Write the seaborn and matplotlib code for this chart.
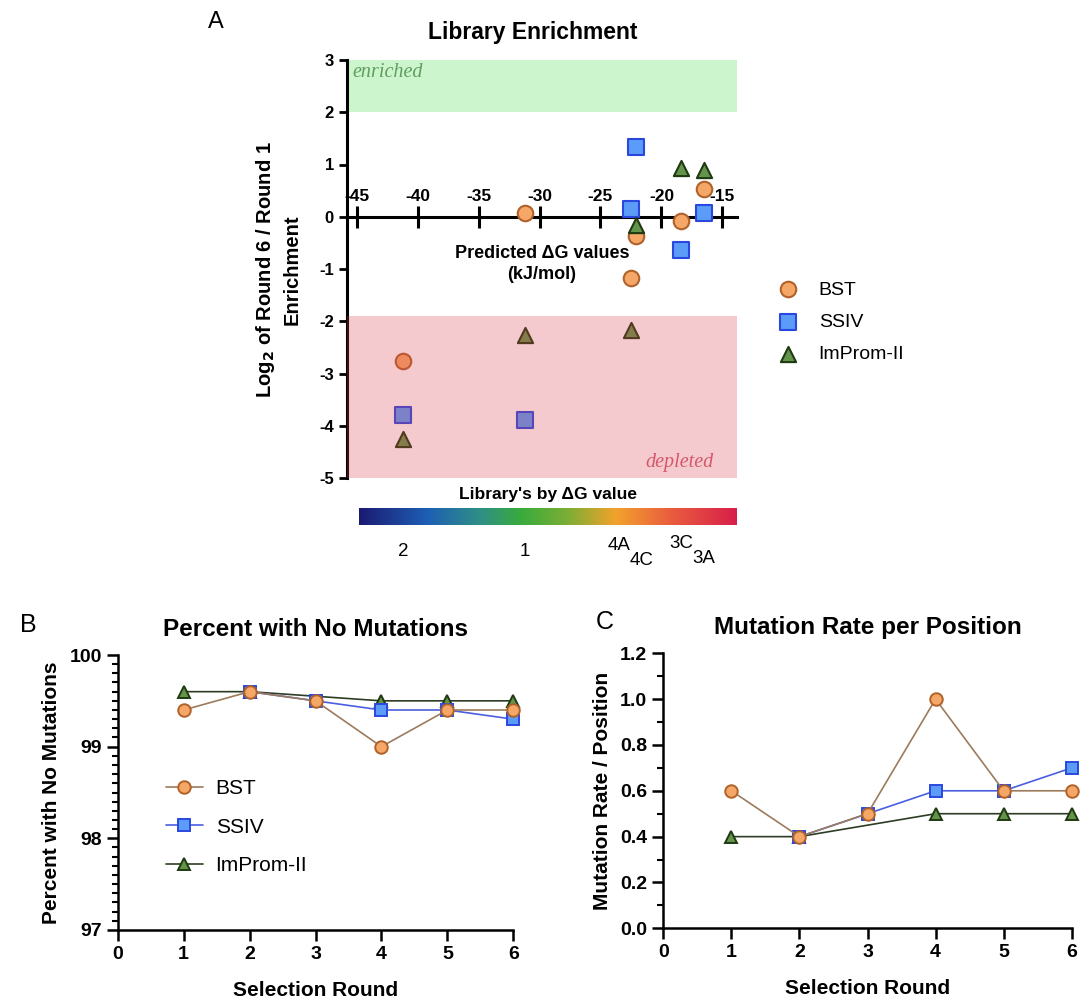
import matplotlib
matplotlib.use("Agg")
import matplotlib.pyplot as plt
import matplotlib.colors as mcolors
from matplotlib.ticker import MultipleLocator
import numpy as np
import pandas as pd
import seaborn as sns

# ---- panel A: enrichment vs predicted dG ----
lib_names = ["2", "1", "4A", "4C", "3C", "3A"]
lib_dg = [-41.2, -31.2, -22.5, -22.05, -18.4, -16.5]
bst_enrich = [-2.76, 0.08, -1.18, -0.37, -0.09, 0.54]
ssiv_enrich = [-3.79, -3.89, 0.14, 1.33, -0.64, 0.07]
improm_enrich = [-4.26, -2.26, -2.17, -0.16, 0.93, 0.89]

# ---- panels B / C: per selection round ----
bst_rounds = [1, 2, 3, 4, 5, 6]
bst_pct = [99.4, 99.6, 99.5, 99.0, 99.4, 99.4]
bst_rate = [0.6, 0.4, 0.5, 1.0, 0.6, 0.6]
ssiv_rounds = [2, 3, 4, 5, 6]
ssiv_pct = [99.6, 99.5, 99.4, 99.4, 99.3]
ssiv_rate = [0.4, 0.5, 0.6, 0.6, 0.7]
improm_rounds = [1, 2, 4, 5, 6]
improm_pct = [99.6, 99.6, 99.5, 99.5, 99.5]
improm_rate = [0.4, 0.4, 0.5, 0.5, 0.5]

sns.set_style("ticks")
plt.rcParams["font.family"] = ["Liberation Sans", "DejaVu Sans"]
plt.rcParams["axes.linewidth"] = 1.8
plt.rcParams["axes.unicode_minus"] = False
for key in ["text.color", "axes.labelcolor", "xtick.color", "ytick.color",
            "axes.edgecolor"]:
    plt.rcParams[key] = "black"

# name: (marker, face, edge, line)
styles = {
    "BST": ("o", "#f4a766", "#b0622a", "#9c7b5c"),
    "SSIV": ("s", "#5a9cf8", "#2a48e0", "#4a5ee0"),
    "ImProm-II": ("^", "#64944a", "#1f3a12", "#2d3d25"),
}
enrich = {"BST": bst_enrich, "SSIV": ssiv_enrich, "ImProm-II": improm_enrich}

fig = plt.figure(figsize=(10.88, 10), dpi=100)

# ================= panel A =================
ax = fig.add_axes([347 / 1088, 0.522, 390 / 1088, 0.418])
ax.axhspan(2, 3, color="#cdf5cd", lw=0, zorder=0)
for name, vals in enrich.items():
    mk, fc, ec, lc = styles[name]
    sns.scatterplot(x=lib_dg, y=vals, marker=mk, s=125 if mk != "^" else 120,
                    color=fc, edgecolor=ec, linewidth=1.5, ax=ax, zorder=3,
                    label=name, clip_on=False)
ax.axhspan(-5, -1.9, color=(0.86, 0.24, 0.29), alpha=0.27, lw=0, zorder=5)

ax.set_xlim(-45.8, -13.8)
ax.set_ylim(-5, 3)
sns.despine(ax=ax, top=True, right=True)
ax.spines["bottom"].set_position(("data", 0))
ax.spines["bottom"].set_linewidth(2.2)
ax.spines["left"].set_linewidth(2.2)
ax.set_xticks(np.arange(-45, -14, 5))
ax.set_yticks(np.arange(-5, 4, 1))
ax.tick_params(axis="x", direction="inout", length=16, width=2.2, pad=-28,
               labelsize=12.5)
ax.tick_params(axis="y", direction="out", length=6, width=2, labelsize=12)
for lab in ax.get_xticklabels() + ax.get_yticklabels():
    lab.set_fontweight("bold")
ax.set_xlabel("")
ax.set_ylabel("")
ax.text(0.5, 0.512, "Predicted \u0394G values\n(kJ/mol)", transform=ax.transAxes,
        ha="center", va="center", fontsize=13, fontweight="bold",
        linespacing=1.3, zorder=6)
ax.text(0.013, 0.969, "enriched", transform=ax.transAxes, ha="left", va="center",
        fontsize=14.5, style="italic", family="Liberation Serif", color="#5e9e5e")
ax.text(0.94, 0.038, "depleted", transform=ax.transAxes, ha="right", va="center",
        fontsize=14.5, style="italic", family="Liberation Serif", color="#d4586a",
        zorder=6)
ax.legend(loc="upper left", bbox_to_anchor=(1.06, 0.49), frameon=False,
          fontsize=14, handletextpad=0.6, labelspacing=0.75, markerscale=1.0,
          borderaxespad=0)

fig.text(0.191, 0.978, "A", fontsize=17, ha="left", va="center")
fig.text(533 / 1088, 0.967, "Library Enrichment", fontsize=16.5, fontweight="bold",
         ha="center", va="center")
fig.text(278 / 1088, 0.73, "Log$_\\mathbf{2}$ of Round 6 / Round 1\nEnrichment",
         rotation=90, ha="center", va="center", fontsize=14.5, fontweight="bold",
         multialignment="center", linespacing=1.4)

# colour bar of libraries by dG
cax = fig.add_axes([347 / 1088, 0.475, 390 / 1088, 0.0167])
cmap = mcolors.LinearSegmentedColormap.from_list(
    "dg", [(0.0, "#1b1a72"), (0.18, "#1e5fb4"), (0.32, "#2f8f86"),
           (0.43, "#3aab3c"), (0.55, "#7aae35"), (0.68, "#f2a22c"),
           (0.82, "#ea5f3e"), (1.0, "#d81f4a")])
cax.imshow(np.linspace(0, 1, 256)[None, :], cmap=cmap, aspect="auto",
           extent=(-44.8, -13.8, 0, 1))
cax.set_xlim(-45.8, -13.8)
cax.set_ylim(0, 1)
cax.axis("off")
fig.text(548 / 1088, 0.505, "Library's by \u0394G value", ha="center", va="center",
         fontsize=12.5, fontweight="bold")
label_dx = [0, 0, -1.0, 0.4, 0, 0]
label_y = [-1.6, -1.6, -1.25, -2.15, -1.1, -2.0]
for name, dg, dx, yy in zip(lib_names, lib_dg, label_dx, label_y):
    cax.text(dg + dx, yy, name, transform=cax.get_xaxis_transform(),
             ha="center", va="center", fontsize=13.5)

# ================= panels B and C =================
def round_panel(rect, series, ylim, major, minor, ylabel, title, letter, lpos):
    axp = fig.add_axes(rect)
    for name in ["ImProm-II", "SSIV", "BST"]:
        xs, ys = series[name]
        mk, fc, ec, lc = styles[name]
        df = pd.DataFrame({"round": xs, "value": ys})
        sns.lineplot(data=df, x="round", y="value", ax=axp, color=lc, lw=1.2,
                     marker=mk, markersize=9 if mk != "^" else 8.5,
                     markerfacecolor=fc, markeredgecolor=ec, markeredgewidth=1.4,
                     clip_on=False, label=name)
    axp.set_xlim(0, 6)
    axp.set_ylim(*ylim)
    axp.set_xticks(range(0, 7))
    axp.yaxis.set_major_locator(MultipleLocator(major))
    axp.yaxis.set_minor_locator(MultipleLocator(minor))
    sns.despine(ax=axp)
    axp.tick_params(axis="both", which="major", direction="out", length=8,
                    width=1.8, labelsize=14)
    axp.tick_params(axis="y", which="minor", direction="out", length=4, width=1.5)
    for lab in axp.get_xticklabels() + axp.get_yticklabels():
        lab.set_fontweight("bold")
    axp.set_xlabel("Selection Round", fontsize=15, fontweight="bold", labelpad=13)
    axp.set_ylabel(ylabel, fontsize=15, fontweight="bold", labelpad=6)
    axp.set_title(title, fontsize=17.5, fontweight="bold", pad=14)
    fig.text(lpos[0], lpos[1], letter, fontsize=18, ha="left", va="center")
    return axp

axb = round_panel([117.7 / 1088, 0.07, 395.6 / 1088, 0.275],
                  {"BST": (bst_rounds, bst_pct), "SSIV": (ssiv_rounds, ssiv_pct),
                   "ImProm-II": (improm_rounds, improm_pct)},
                  (97, 100), 1, 0.1, "Percent with No Mutations",
                  "Percent with No Mutations", "B", (0.018, 0.375))
handles, labels = axb.get_legend_handles_labels()
order = [labels.index(n) for n in ["BST", "SSIV", "ImProm-II"]]
axb.legend([handles[i] for i in order], [labels[i] for i in order],
           loc="upper left", bbox_to_anchor=(0.1, 0.58), frameon=False,
           fontsize=15, handlelength=1.8, handletextpad=0.6, labelspacing=0.95,
           borderaxespad=0)

axc = round_panel([663.3 / 1088, 0.0717, 408.4 / 1088, 0.275],
                  {"BST": (bst_rounds, bst_rate), "SSIV": (ssiv_rounds, ssiv_rate),
                   "ImProm-II": (improm_rounds, improm_rate)},
                  (0, 1.2), 0.2, 0.1, "Mutation Rate / Position",
                  "Mutation Rate per Position", "C", (0.548, 0.378))
axc.legend_.remove()

fig.savefig("out.png", dpi=100, facecolor="white")
